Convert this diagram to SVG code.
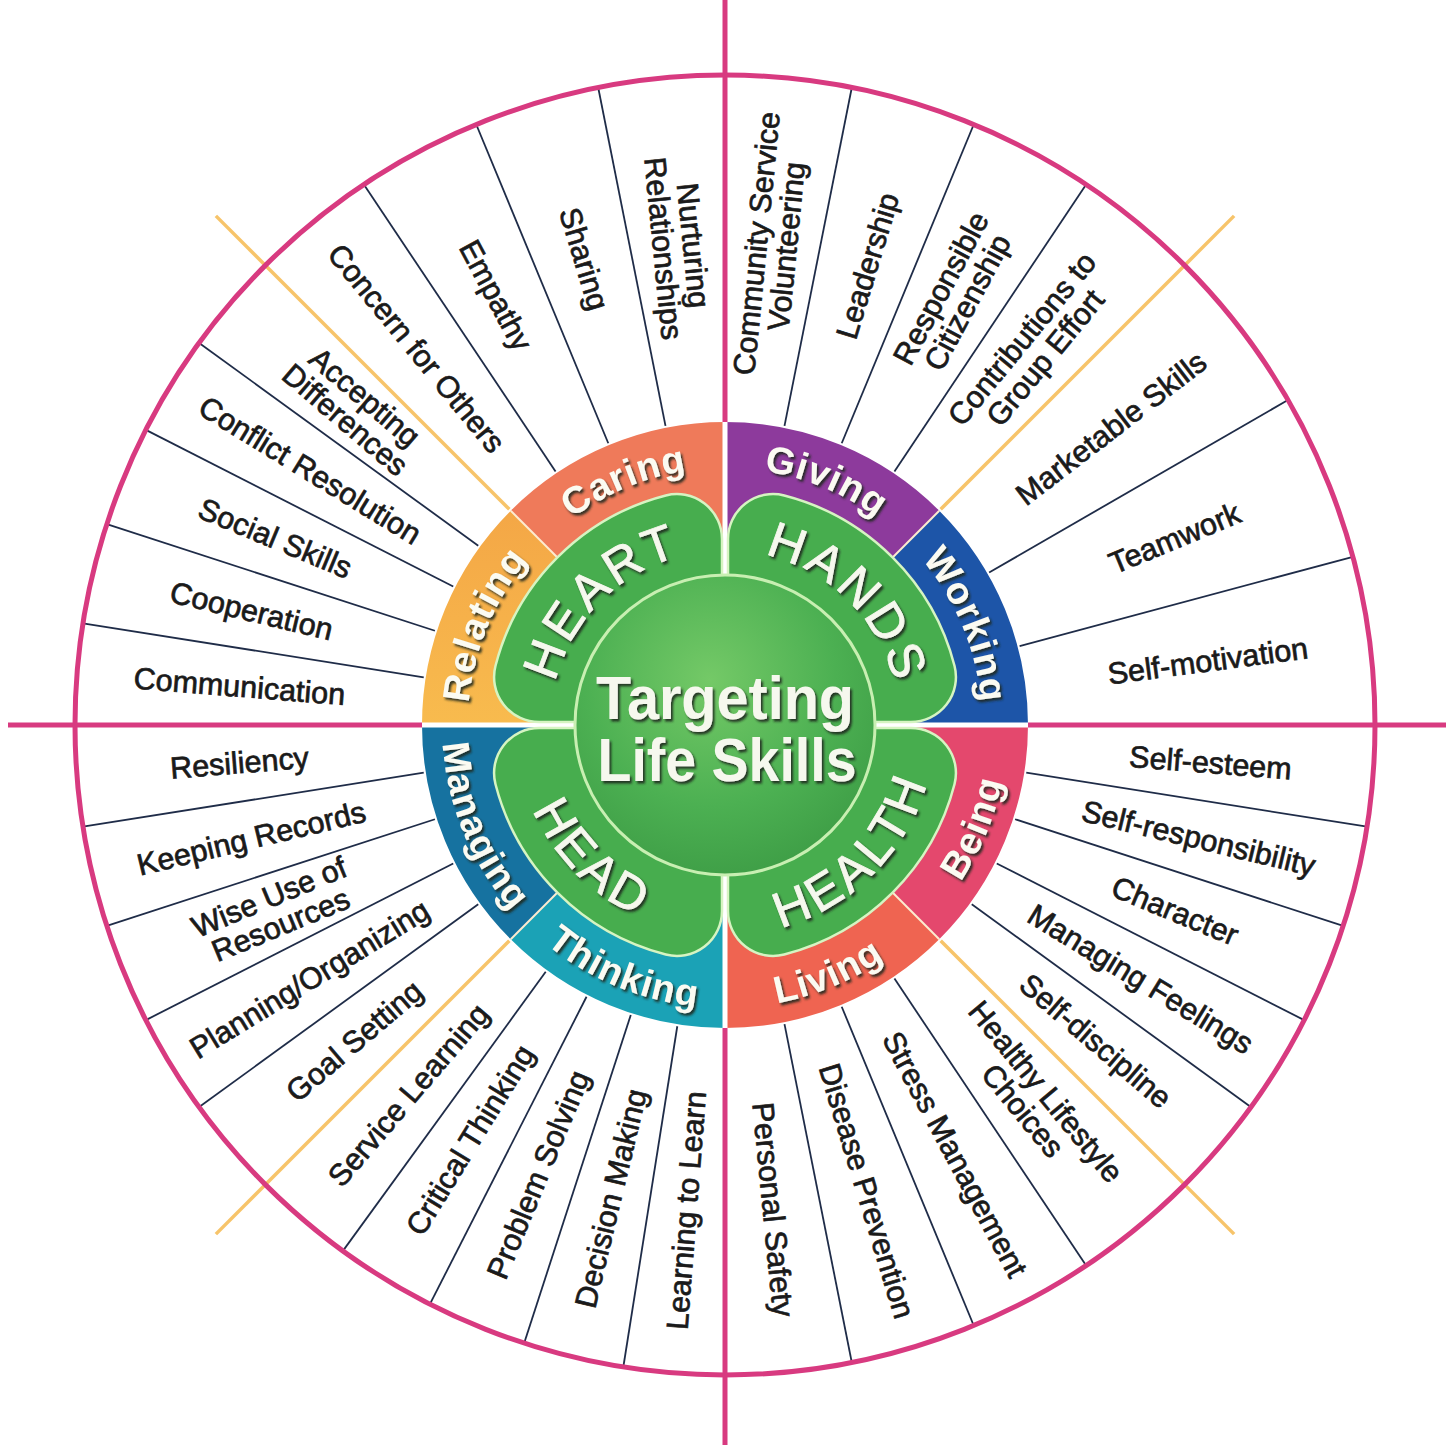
<svg xmlns="http://www.w3.org/2000/svg" width="1455" height="1445" viewBox="0 0 1455 1445">
<style>
.lbl{font-family:"Liberation Sans",Arial,sans-serif;font-size:30.5px;fill:#1a1a1a;stroke:#1a1a1a;stroke-width:0.7px;text-anchor:middle}
.ring{font-family:"Liberation Sans",Arial,sans-serif;font-size:38px;font-weight:bold;fill:#fbfbf2;text-anchor:middle;letter-spacing:1px}
.petal{font-family:"Liberation Sans",Arial,sans-serif;font-size:50px;fill:#f6f8ee;stroke:#f6f8ee;stroke-width:0.8px;text-anchor:middle;letter-spacing:4px}
.center{font-family:"Liberation Sans",Arial,sans-serif;font-size:62px;font-weight:bold;fill:#f6f8ee;text-anchor:middle}
.spoke{stroke:#1f2c48;stroke-width:1.8}
.diag{stroke:#f7c46a;stroke-width:3.5}
.pink{stroke:#d83a80;stroke-width:5;fill:none}
.petalshape{fill:#47ad4e;stroke:#d6f4c2;stroke-width:2.5}
.sep{stroke:#fdebd0;stroke-width:2}
</style>
<defs>
<filter id="sh" x="-15%" y="-15%" width="135%" height="135%">
<feDropShadow dx="2" dy="2.5" stdDeviation="0.9" flood-color="#1b261b" flood-opacity="0.9"/>
</filter>
<radialGradient id="gIn" cx="45%" cy="35%" r="70%">
<stop offset="0" stop-color="#74c967"/>
<stop offset="0.6" stop-color="#4cb052"/>
<stop offset="1" stop-color="#3d9c45"/>
</radialGradient>
<linearGradient id="gRel" x1="0" y1="1" x2="0" y2="0">
<stop offset="0" stop-color="#f8bb4e"/>
<stop offset="1" stop-color="#f4a746"/>
</linearGradient>
<path id="p-caring" d="M543.27,542.27 A257,257 0 0 1 725,467"/>
<path id="p-giving" d="M725,467 A257,257 0 0 1 906.73,542.27"/>
<path id="p-working" d="M906.73,542.27 A257,257 0 0 1 982,724"/>
<path id="p-relating" d="M468,724 A257,257 0 0 1 543.27,542.27"/>
<path id="p-being" d="M925.11,924.11 A283,283 0 0 0 1008,724"/>
<path id="p-living" d="M725,1007 A283,283 0 0 0 925.11,924.11"/>
<path id="p-thinking" d="M524.89,924.11 A283,283 0 0 0 725,1007"/>
<path id="p-managing" d="M442,724 A283,283 0 0 0 524.89,924.11"/>
<path id="p-heart" d="M550,724 A175,175 0 0 1 725,549"/>
<path id="p-hands" d="M725,549 A175,175 0 0 1 900,724"/>
<path id="p-health" d="M725,934 A210,210 0 0 0 935,724"/>
<path id="p-head" d="M515,724 A210,210 0 0 0 725,934"/>
</defs>
<rect width="1455" height="1445" fill="#ffffff"/>
<g transform="translate(0,1)">
<g id="frame">
<circle cx="725" cy="724" r="650" fill="#ffffff"/>
</g>
<g id="connectors">
<line class="spoke" x1="665.50" y1="424.86" x2="598.19" y2="86.49"/>
<line class="spoke" x1="608.28" y1="442.22" x2="476.26" y2="123.48"/>
<line class="spoke" x1="555.55" y1="470.40" x2="363.88" y2="183.54"/>
<line class="spoke" x1="478.25" y1="544.72" x2="199.14" y2="341.94"/>
<line class="spoke" x1="453.24" y1="585.53" x2="145.84" y2="428.91"/>
<line class="spoke" x1="434.93" y1="629.75" x2="106.81" y2="523.14"/>
<line class="spoke" x1="423.75" y1="676.29" x2="83.00" y2="622.32"/>
<line class="spoke" x1="784.50" y1="424.86" x2="851.81" y2="86.49"/>
<line class="spoke" x1="841.72" y1="442.22" x2="973.74" y2="123.48"/>
<line class="spoke" x1="894.45" y1="470.40" x2="1086.12" y2="183.54"/>
<line class="spoke" x1="989.14" y1="571.5" x2="1287.92" y2="399"/>
<line class="spoke" x1="1019.61" y1="645.06" x2="1352.85" y2="555.77"/>
<line class="spoke" x1="1026.25" y1="771.71" x2="1367.00" y2="825.68"/>
<line class="spoke" x1="1015.07" y1="818.25" x2="1343.19" y2="924.86"/>
<line class="spoke" x1="996.76" y1="862.47" x2="1304.16" y2="1019.09"/>
<line class="spoke" x1="971.75" y1="903.28" x2="1250.86" y2="1106.06"/>
<line class="spoke" x1="894.45" y1="977.60" x2="1086.12" y2="1264.46"/>
<line class="spoke" x1="841.72" y1="1005.78" x2="973.74" y2="1324.52"/>
<line class="spoke" x1="784.50" y1="1023.14" x2="851.81" y2="1361.51"/>
<line class="spoke" x1="677.29" y1="1025.25" x2="623.32" y2="1366.00"/>
<line class="spoke" x1="630.75" y1="1014.07" x2="524.14" y2="1342.19"/>
<line class="spoke" x1="586.53" y1="995.76" x2="429.91" y2="1303.16"/>
<line class="spoke" x1="545.72" y1="970.75" x2="342.94" y2="1249.86"/>
<line class="spoke" x1="478.25" y1="903.28" x2="199.14" y2="1106.06"/>
<line class="spoke" x1="453.24" y1="862.47" x2="145.84" y2="1019.09"/>
<line class="spoke" x1="434.93" y1="818.25" x2="106.81" y2="924.86"/>
<line class="spoke" x1="423.75" y1="771.71" x2="83.00" y2="825.68"/>
<line class="diag" x1="509.33" y1="508.33" x2="215.88" y2="214.88"/>
<line class="diag" x1="940.67" y1="508.33" x2="1234.12" y2="214.88"/>
<line class="diag" x1="940.67" y1="939.67" x2="1234.12" y2="1233.12"/>
<line class="diag" x1="509.33" y1="939.67" x2="215.88" y2="1233.12"/>
<circle class="pink" cx="725" cy="724" r="650"/>
<line class="pink" x1="725" y1="-2" x2="725" y2="1446"/>
<line class="pink" x1="8" y1="724" x2="1446" y2="724"/>
</g>
<g id="ring">
<path id="seg-giving" fill="#8d3a9c" d="M725,421 A303,303 0 0 1 939.25,509.75 L831.07,617.93 A150,150 0 0 0 725,574 Z"/>
<path id="seg-working" fill="#1d55a8" d="M939.25,509.75 A303,303 0 0 1 1028,724 L875,724 A150,150 0 0 0 831.07,617.93 Z"/>
<path id="seg-being" fill="#e4486d" d="M1028,724 A303,303 0 0 1 939.25,938.25 L831.07,830.07 A150,150 0 0 0 875,724 Z"/>
<path id="seg-living" fill="#ef6451" d="M939.25,938.25 A303,303 0 0 1 725,1027 L725,874 A150,150 0 0 0 831.07,830.07 Z"/>
<path id="seg-thinking" fill="#1ba2b6" d="M725,1027 A303,303 0 0 1 510.75,938.25 L618.93,830.07 A150,150 0 0 0 725,874 Z"/>
<path id="seg-managing" fill="#1672a0" d="M510.75,938.25 A303,303 0 0 1 422,724 L575,724 A150,150 0 0 0 618.93,830.07 Z"/>
<path id="seg-relating" fill="url(#gRel)" d="M422,724 A303,303 0 0 1 510.75,509.75 L618.93,617.93 A150,150 0 0 0 575,724 Z"/>
<path id="seg-caring" fill="#ef7a5a" d="M510.75,509.75 A303,303 0 0 1 725,421 L725,574 A150,150 0 0 0 618.93,617.93 Z"/>
<line class="sep" x1="892.58" y1="556.42" x2="939.25" y2="509.75"/>
<line class="sep" x1="892.58" y1="891.58" x2="939.25" y2="938.25"/>
<line class="sep" x1="557.42" y1="891.58" x2="510.75" y2="938.25"/>
<line class="sep" x1="557.42" y1="556.42" x2="510.75" y2="509.75"/>
<line x1="725" y1="421" x2="725" y2="1027" stroke="#ffffff" stroke-width="5"/>
<line x1="422" y1="724" x2="1028" y2="724" stroke="#ffffff" stroke-width="5"/>
</g>
<g id="petals">
<path id="petal-heart" class="petalshape" d="M722,721 L722,538.1 A45,45 0 0 0 665.75,494.5 A237,237 0 0 0 495.5,664.75 A45,45 0 0 0 539.1,721 Z"/>
<path id="petal-hands" class="petalshape" d="M728,721 L728,538.1 A45,45 0 0 1 784.25,494.5 A237,237 0 0 1 954.5,664.75 A45,45 0 0 1 910.9,721 Z"/>
<path id="petal-health" class="petalshape" d="M728,727 L728,909.9 A45,45 0 0 0 784.25,953.5 A237,237 0 0 0 954.5,783.25 A45,45 0 0 0 910.9,727 Z"/>
<path id="petal-head" class="petalshape" d="M722,727 L722,909.9 A45,45 0 0 1 665.75,953.5 A237,237 0 0 1 495.5,783.25 A45,45 0 0 1 539.1,727 Z"/>
</g>
<g id="core">
<circle cx="725" cy="724" r="150" fill="url(#gIn)" stroke="#c8efb2" stroke-width="3"/>
<g filter="url(#sh)">
<text class="center" x="725" y="718" textLength="258" lengthAdjust="spacingAndGlyphs">Targeting</text>
<text class="center" x="727" y="780" textLength="259" lengthAdjust="spacingAndGlyphs">Life Skills</text>
</g>
</g>
<g id="ring-labels" filter="url(#sh)">
<text class="ring"><textPath href="#p-caring" startOffset="50%">Caring</textPath></text>
<text class="ring"><textPath href="#p-giving" startOffset="50%">Giving</textPath></text>
<text class="ring"><textPath href="#p-working" startOffset="50%">Working</textPath></text>
<text class="ring"><textPath href="#p-relating" startOffset="50%">Relating</textPath></text>
<text class="ring"><textPath href="#p-being" startOffset="50%">Being</textPath></text>
<text class="ring"><textPath href="#p-living" startOffset="50%">Living</textPath></text>
<text class="ring"><textPath href="#p-thinking" startOffset="50%">Thinking</textPath></text>
<text class="ring"><textPath href="#p-managing" startOffset="50%">Managing</textPath></text>
</g>
<g id="petal-labels" filter="url(#sh)">
<text class="petal"><textPath href="#p-heart" startOffset="50%">HEART</textPath></text>
<text class="petal"><textPath href="#p-hands" startOffset="50%">HANDS</textPath></text>
<text class="petal"><textPath href="#p-health" startOffset="50%">HEALTH</textPath></text>
<text class="petal"><textPath href="#p-head" startOffset="50%">HEAD</textPath></text>
</g>
<g id="skills">
<g id="s-nurturing" transform="translate(678,246) rotate(84.375)"><text class="lbl"><tspan x="0" y="-5">Nurturing</tspan><tspan x="0" y="25">Relationships</tspan></text></g>
<g id="s-sharing" transform="translate(583.63,257.97) rotate(73.125)"><text class="lbl" y="10">Sharing</text></g>
<g id="s-empathy" transform="translate(495.43,294.5) rotate(61.875)"><text class="lbl" y="10">Empathy</text></g>
<g id="s-concern" transform="translate(416.05,347.54) rotate(50.625)"><text class="lbl" y="10">Concern for Others</text></g>
<g id="s-accepting" transform="translate(354.68,407.72) rotate(40.5)"><text class="lbl"><tspan x="0" y="-5">Accepting</tspan><tspan x="0" y="25">Differences</tspan></text></g>
<g id="s-conflict" transform="translate(309.76,469.54) rotate(31.5)"><text class="lbl" y="10">Conflict Resolution</text></g>
<g id="s-social" transform="translate(275.07,537.63) rotate(22.5)"><text class="lbl" y="10">Social Skills</text></g>
<g id="s-cooperation" transform="translate(251.46,610.31) rotate(13.5)"><text class="lbl" y="10">Cooperation</text></g>
<g id="s-communication" transform="translate(239.5,685.79) rotate(4.5)"><text class="lbl" y="10">Communication</text></g>
<g id="s-community" transform="translate(772,244) rotate(-84.375)"><text class="lbl"><tspan x="0" y="-5">Community Service</tspan><tspan x="0" y="25">Volunteering</tspan></text></g>
<g id="s-leadership" transform="translate(868,265) rotate(-73.125)"><text class="lbl" y="10">Leadership</text></g>
<g id="s-responsible" transform="translate(954.57,294.5) rotate(-61.875)"><text class="lbl"><tspan x="0" y="-5">Responsible</tspan><tspan x="0" y="25">Citizenship</tspan></text></g>
<g id="s-contributions" transform="translate(1033.95,347.54) rotate(-50.625)"><text class="lbl"><tspan x="0" y="-5">Contributions to</tspan><tspan x="0" y="25">Group Effort</tspan></text></g>
<g id="s-marketable" transform="translate(1111.36,427.53) rotate(-37.5)"><text class="lbl" y="10">Marketable Skills</text></g>
<g id="s-teamwork" transform="translate(1174.93,537.63) rotate(-22.5)"><text class="lbl" y="10">Teamwork</text></g>
<g id="s-selfmotivation" transform="translate(1207.83,660.43) rotate(-7.5)"><text class="lbl" y="10">Self-motivation</text></g>
<g id="s-selfesteem" transform="translate(1210.5,762.21) rotate(4.5)"><text class="lbl" y="10">Self-esteem</text></g>
<g id="s-selfresponsibility" transform="translate(1198.54,837.69) rotate(13.5)"><text class="lbl" y="10">Self-responsibility</text></g>
<g id="s-character" transform="translate(1174.93,910.37) rotate(22.5)"><text class="lbl" y="10">Character</text></g>
<g id="s-managingfeelings" transform="translate(1140.24,978.46) rotate(31.5)"><text class="lbl" y="10">Managing Feelings</text></g>
<g id="s-selfdiscipline" transform="translate(1095.32,1040.28) rotate(40.5)"><text class="lbl" y="10">Self-discipline</text></g>
<g id="s-healthy" transform="translate(1033.95,1100.46) rotate(50.625)"><text class="lbl"><tspan x="0" y="-5">Healthy Lifestyle</tspan><tspan x="0" y="25">Choices</tspan></text></g>
<g id="s-stress" transform="translate(954.57,1153.5) rotate(61.875)"><text class="lbl" y="10">Stress Management</text></g>
<g id="s-disease" transform="translate(866.37,1190.03) rotate(73.125)"><text class="lbl" y="10">Disease Prevention</text></g>
<g id="s-personal" transform="translate(772.74,1208.65) rotate(84.375)"><text class="lbl" y="10">Personal Safety</text></g>
<g id="s-learning" transform="translate(686.79,1209.5) rotate(-85.5)"><text class="lbl" y="10">Learning to Learn</text></g>
<g id="s-decision" transform="translate(611.31,1197.54) rotate(-76.5)"><text class="lbl" y="10">Decision Making</text></g>
<g id="s-problem" transform="translate(538.63,1173.93) rotate(-67.5)"><text class="lbl" y="10">Problem Solving</text></g>
<g id="s-critical" transform="translate(470.54,1139.24) rotate(-58.5)"><text class="lbl" y="10">Critical Thinking</text></g>
<g id="s-service" transform="translate(408.72,1094.32) rotate(-49.5)"><text class="lbl" y="10">Service Learning</text></g>
<g id="s-goal" transform="translate(354.68,1040.28) rotate(-40.5)"><text class="lbl" y="10">Goal Setting</text></g>
<g id="s-planning" transform="translate(309.76,978.46) rotate(-31.5)"><text class="lbl" y="10">Planning/Organizing</text></g>
<g id="s-wise" transform="translate(275.07,910.37) rotate(-22.5)"><text class="lbl"><tspan x="0" y="-5">Wise Use of</tspan><tspan x="0" y="25">Resources</tspan></text></g>
<g id="s-keeping" transform="translate(251.46,837.69) rotate(-13.5)"><text class="lbl" y="10">Keeping Records</text></g>
<g id="s-resiliency" transform="translate(239.5,762.21) rotate(-4.5)"><text class="lbl" y="10">Resiliency</text></g>
</g>
</g>
</svg>
